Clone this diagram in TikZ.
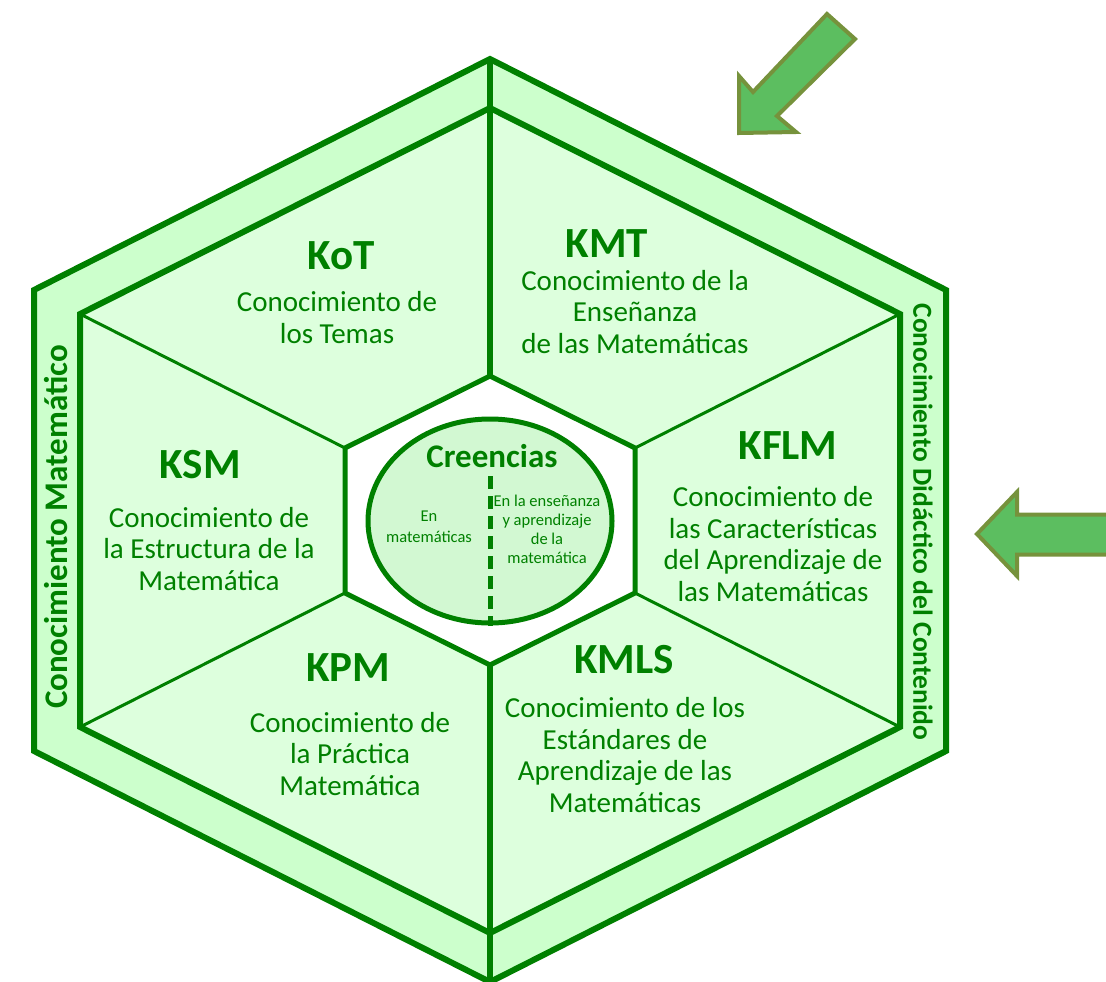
\documentclass[tikz,border=0pt]{standalone}
\usepackage{fontspec}
\setmainfont{Carlito}
\usetikzlibrary{shapes.geometric}
\definecolor{mkgreen}{RGB}{0,128,0}
\definecolor{bandfill}{RGB}{204,255,204}
\definecolor{sectorfill}{RGB}{221,255,221}
\definecolor{beliefill}{RGB}{210,248,210}
\definecolor{arrowfill}{RGB}{92,190,96}
\definecolor{arrowline}{RGB}{118,146,60}

\begin{document}
\begin{tikzpicture}[x=1pt,y=-1pt,
    hexline/.style={draw=mkgreen,line width=6pt,line join=miter},
    spokeline/.style={draw=mkgreen,line width=3pt},
    kheading/.style={text=mkgreen,font=\bfseries\fontsize{43}{43}\selectfont,inner sep=0pt,anchor=base},
    ktext/.style={text=mkgreen,font=\fontsize{29}{31.5}\selectfont,align=center,inner sep=0pt,anchor=base},
    btext/.style={text=mkgreen,font=\fontsize{16.5}{19}\selectfont,align=center,inner sep=0pt,anchor=base},
    bandlabel/.style={text=mkgreen,inner sep=0pt},
    blockarrow/.style={fill=arrowfill,draw=arrowline,line width=4pt,line join=miter}]
            \useasboundingbox (0,0) rectangle (1106,982);
            \coordinate (o1) at (490,59);
            \coordinate (o2) at (946,290);
            \coordinate (o3) at (946,751);
            \coordinate (o4) at (490,982);
            \coordinate (o5) at (34,751);
            \coordinate (o6) at (34,290);
            \coordinate (m1) at (490,108);
            \coordinate (m2) at (900,314);
            \coordinate (m3) at (900,727);
            \coordinate (m4) at (490,933);
            \coordinate (m5) at (80,727);
            \coordinate (m6) at (80,314);
            \coordinate (i1) at (490,376);
            \coordinate (i2) at (635,448);
            \coordinate (i3) at (635,593);
            \coordinate (i4) at (490,665);
            \coordinate (i5) at (345,593);
            \coordinate (i6) at (345,448);
            \fill[bandfill] (o1)--(o2)--(o3)--(o4)--(o5)--(o6)--cycle;
            \fill[sectorfill] (m1)--(m2)--(m3)--(m4)--(m5)--(m6)--cycle;
            \fill[white] (i1)--(i2)--(i3)--(i4)--(i5)--(i6)--cycle;
            \draw[spokeline] (m2)--(i2);
            \draw[spokeline] (m3)--(i3);
            \draw[spokeline] (m5)--(i5);
            \draw[spokeline] (m6)--(i6);
            \draw[hexline] (o1)--(i1);
            \draw[hexline] (o4)--(i4);
            \draw[hexline] (o1)--(o2)--(o3)--(o4)--(o5)--(o6)--cycle;
            \draw[hexline] (m1)--(m2)--(m3)--(m4)--(m5)--(m6)--cycle;
            \draw[hexline,line width=5pt] (i1)--(i2)--(i3)--(i4)--(i5)--(i6)--cycle;
            \node[ellipse,draw=mkgreen,line width=5pt,fill=beliefill,minimum width=244,minimum height=204,inner sep=0pt] (beliefs) at (490,521) {};
            \node[text=mkgreen,font=\bfseries\fontsize{33}{33}\selectfont,inner sep=0pt,anchor=base] (creencias) at (492,467) {Creencias};
            \coordinate (split) at (490,476);
            \draw[mkgreen,line width=5pt,dash pattern=on 13pt off 7pt] (split)--(beliefs.south);
            \node[btext,font=\fontsize{16.5}{21}\selectfont] (enmat) at (429,542) {En\\matemáticas};
            \node[btext] (enens) at (547,563) {En la enseñanza\\y aprendizaje\\de la\\matemática};
            \node[kheading] (kot) at (341,269) {KoT};
            \node[ktext] (kottext) at (337,343) {Conocimiento de\\los Temas};
            \node[kheading] (kmt) at (607,257) {KMT};
            \node[ktext] (kmttext) at (635,353) {Conocimiento de la\\Enseñanza\\de las Matemáticas};
            \node[kheading] (kflm) at (788,459) {KFLM};
            \node[ktext] (kflmtext) at (773,601) {Conocimiento de\\las Características\\del Aprendizaje de\\las Matemáticas};
            \node[kheading] (kmls) at (624,673) {KMLS};
            \node[ktext] (kmlstext) at (625,812) {Conocimiento de los\\Estándares de\\Aprendizaje de las\\Matemáticas};
            \node[kheading] (kpm) at (348,681) {KPM};
            \node[ktext] (kpmtext) at (350,795) {Conocimiento de\\la Práctica\\Matemática};
            \node[kheading] (ksm) at (200,478) {KSM};
            \node[ktext] (ksmtext) at (209,590) {Conocimiento de\\la Estructura de la\\Matemática};
            \node[bandlabel,rotate=90,font=\bfseries\fontsize{33}{33}\selectfont] (mk) at (56,527) {Conocimiento Matemático};
            \node[bandlabel,rotate=-90,font=\bfseries\fontsize{27.5}{27.5}\selectfont] (pck) at (923,522) {Conocimiento Didáctico del Contenido};
            \draw[blockarrow] (827,14)--(855,39)--(777,116)--(796,132)--(739,133)--(739,76)--(753,92)--cycle;
            \begin{scope}
            \clip (0,0) rectangle (1106,982);
            \draw[blockarrow] (977,534)--(1017,492)--(1017,514.5)--(1120,514.5)--(1120,554.5)--(1017,554.5)--(1017,576)--cycle;
            \end{scope}
\end{tikzpicture}
\end{document}
